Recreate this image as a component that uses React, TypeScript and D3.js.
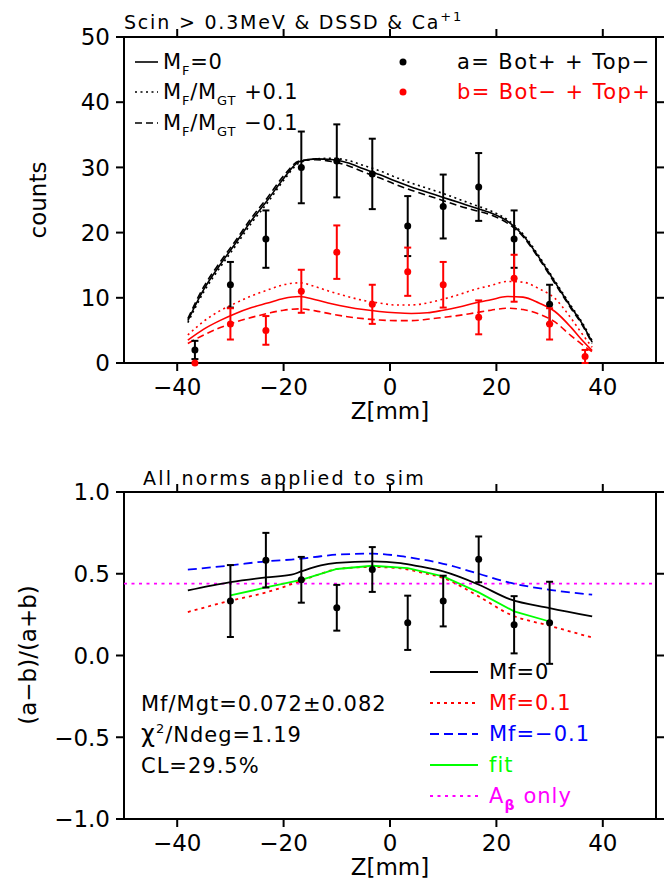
import React from 'react';
import * as d3 from 'd3';

// bin centres (mm) and measured counts
const binZ = [-36.67, -30, -23.33, -16.67, -10, -3.33, 3.33, 10, 16.67, 23.33, 30, 36.67];
const countsA = [2, 12, 19, 30, 31, 29, 21, 24, 27, 19, 9, null];
const errA = [1.4, 3.5, 4.4, 5.5, 5.6, 5.4, 4.6, 4.9, 5.2, 4.4, 3.0, null];
const countsB = [0, 6, 5, 11, 17, 9, 14, 12, 7, 13, 6, 1];
const errB = [0, 2.4, 2.2, 3.3, 4.1, 3.0, 3.7, 3.5, 2.6, 3.6, 2.4, 1.0];

// simulation curves, top panel
const zTop = [-38, -35, -32, -29, -26, -23, -20, -17, -14, -11, -8, -5, -2, 1, 4, 7, 10, 13, 16, 19, 22, 25, 28, 31, 34, 36, 38];
const aMf0 = [6.5, 11.3, 15.0, 18.4, 21.9, 25.0, 28.3, 30.9, 31.3, 31.2, 30.7, 29.8, 28.9, 27.9, 27.0, 26.2, 25.4, 24.6, 23.8, 23.0, 21.8, 19.6, 16.2, 12.4, 8.6, 6.2, 3.2];
const aPlus = [6.2, 10.9, 14.6, 18.0, 21.5, 24.6, 28.0, 30.7, 31.3, 31.4, 31.1, 30.3, 29.5, 28.5, 27.6, 26.8, 26.0, 25.1, 24.2, 23.3, 22.0, 19.8, 16.4, 12.6, 8.8, 6.4, 3.4];
const aMinus = [6.8, 11.7, 15.4, 18.8, 22.3, 25.4, 28.7, 31.0, 31.2, 30.9, 30.3, 29.3, 28.4, 27.4, 26.5, 25.7, 24.9, 24.1, 23.4, 22.7, 21.5, 19.4, 16.0, 12.2, 8.4, 6.0, 3.0];
const bMf0 = [3.5, 5.2, 6.5, 7.6, 8.5, 9.2, 9.9, 10.2, 9.7, 9.1, 8.6, 8.2, 7.9, 7.7, 7.6, 7.7, 8.1, 8.6, 9.2, 9.7, 10.2, 10.1, 9.2, 7.9, 5.5, 3.6, 1.9];
const bPlus = [4.3, 6.4, 8.0, 9.2, 10.3, 11.2, 12.0, 12.3, 11.7, 10.9, 10.2, 9.6, 9.2, 8.9, 8.9, 9.2, 9.8, 10.5, 11.3, 11.9, 12.5, 12.4, 11.4, 9.9, 6.9, 4.6, 2.4];
const bMinus = [3.0, 4.3, 5.4, 6.3, 7.0, 7.6, 8.1, 8.3, 8.0, 7.5, 7.1, 6.8, 6.6, 6.5, 6.5, 6.7, 7.0, 7.3, 7.7, 8.1, 8.4, 8.2, 7.5, 6.3, 4.2, 2.9, 1.7];

// asymmetry panel
const asymZ = [-30, -23.33, -16.67, -10, -3.33, 3.33, 10, 16.67, 23.33, 30];
const asymVal = [0.333, 0.583, 0.463, 0.292, 0.526, 0.2, 0.333, 0.588, 0.188, 0.2];
const asymErr = [0.22, 0.167, 0.14, 0.14, 0.137, 0.166, 0.155, 0.14, 0.175, 0.251];
const zBot = [-38, -30, -23.3, -18.5, -16.7, -13, -10, -3.3, 2, 5.5, 10, 16.7, 22.5, 30, 38];
const asymMf0 = [0.398, 0.449, 0.478, 0.494, 0.514, 0.551, 0.566, 0.576, 0.565, 0.545, 0.514, 0.433, 0.345, 0.29, 0.239];
const asymPlus = [0.266, 0.335, 0.386, 0.436, 0.457, 0.5, 0.529, 0.541, 0.533, 0.51, 0.474, 0.361, 0.252, 0.182, 0.11];
const asymMinus = [0.525, 0.551, 0.576, 0.587, 0.592, 0.607, 0.617, 0.623, 0.608, 0.59, 0.561, 0.5, 0.445, 0.402, 0.372];
const asymFit = [0.367, 0.416, 0.463, 0.529, 0.549, 0.535, 0.484, 0.386, 0.27, 0.208];
const aBetaOnly = 0.44;

const FONT = '"DejaVu Sans", sans-serif';
const x = d3.scaleLinear().domain([-50, 50]).range([124, 656]);
const yTop = d3.scaleLinear().domain([0, 50]).range([363, 37]);
const yBot = d3.scaleLinear().domain([-1, 1]).range([819, 492]);

const minus = (s: string) => s.replace('-', '\u2212');

function Axes({ y, yTicks, yFmt }: { y: d3.ScaleLinear<number, number>; yTicks: number[]; yFmt: (v: number) => string }) {
  const [x0, x1] = x.range();
  const [yb, yt] = y.range();
  const tl = 8;
  return (
    <g stroke="#000" strokeWidth={2}>
      <rect x={x0} y={yt} width={x1 - x0} height={yb - yt} fill="none" />
      {x.ticks(5).map(t => (
        <g key={'x' + t}>
          <line x1={x(t)} x2={x(t)} y1={yb} y2={yb + tl} />
          <line x1={x(t)} x2={x(t)} y1={yt} y2={yt - tl} />
          <text x={x(t)} y={yb + 32} textAnchor="middle" fontSize={23} stroke="none">{minus(String(t))}</text>
        </g>
      ))}
      {yTicks.map(t => (
        <g key={'y' + t}>
          <line x1={x0} x2={x0 - tl} y1={y(t)} y2={y(t)} />
          <line x1={x1} x2={x1 + tl} y1={y(t)} y2={y(t)} />
          <text x={x0 - 14} y={y(t)} dy="0.36em" textAnchor="end" fontSize={23} stroke="none">{yFmt(t)}</text>
        </g>
      ))}
      <text x={x(0)} y={yb + 56} textAnchor="middle" fontSize={23} stroke="none">Z[mm]</text>
    </g>
  );
}

function Points({ y, zs, vals, errs, color }: { y: d3.ScaleLinear<number, number>; zs: number[]; vals: (number | null)[]; errs: (number | null)[]; color: string }) {
  return (
    <g stroke={color} fill={color} strokeWidth={2}>
      {zs.map((z, i) => {
        const v = vals[i];
        const e = errs[i];
        if (v == null || e == null) return null;
        const cx = x(z);
        const hi = y(v + e);
        const lo = y(v - e);
        return (
          <g key={i}>
            {e > 0 && (
              <>
                <line x1={cx} x2={cx} y1={hi} y2={lo} />
                <line x1={cx - 3.5} x2={cx + 3.5} y1={hi} y2={hi} />
                <line x1={cx - 3.5} x2={cx + 3.5} y1={lo} y2={lo} />
              </>
            )}
            <circle cx={cx} cy={y(v)} r={3.5} stroke="none" />
          </g>
        );
      })}
    </g>
  );
}

export default function App() {
  const lineTop = (vals: number[]) =>
    d3.line<number>().x((_, i) => x(zTop[i])).y(d => yTop(d)).curve(d3.curveMonotoneX)(vals) || '';
  const lineBot = (vals: number[]) =>
    d3.line<number>().x((_, i) => x(zBot[i])).y(d => yBot(d)).curve(d3.curveMonotoneX)(vals) || '';
  const fitPath = d3.line<number>().x((_, i) => x(asymZ[i])).y(d => yBot(d))(asymFit) || '';

  const dotted = '2,3.5';
  const dashed = '7,4';

  return (
    <svg width={672} height={884} style={{ position: 'absolute', left: 0, top: 0, background: '#fff' }} fontFamily={FONT}>
      <rect width={672} height={884} fill="#fff" />

      {/* ---------- top panel ---------- */}
      <text x={124} y={29} fontSize={19} letterSpacing={1.8} style={{ whiteSpace: 'pre' }}>
        Scin {'>'} 0.3MeV &amp; DSSD &amp; Ca<tspan fontSize={13} dy={-8}>+1</tspan>
      </text>
      <Axes y={yTop} yTicks={yTop.ticks(5)} yFmt={v => String(v)} />
      <text transform="translate(46,200) rotate(-90)" textAnchor="middle" fontSize={23}>counts</text>

      <g fill="none" strokeWidth={1.6}>
        <path d={lineTop(aMf0)} stroke="#000" />
        <path d={lineTop(aPlus)} stroke="#000" strokeDasharray={dotted} />
        <path d={lineTop(aMinus)} stroke="#000" strokeDasharray={dashed} />
        <path d={lineTop(bMf0)} stroke="#f00" />
        <path d={lineTop(bPlus)} stroke="#f00" strokeDasharray={dotted} />
        <path d={lineTop(bMinus)} stroke="#f00" strokeDasharray={dashed} />
      </g>
      <Points y={yTop} zs={binZ} vals={countsA} errs={errA} color="#000" />
      <Points y={yTop} zs={binZ} vals={countsB} errs={errB} color="#f00" />

      {/* top legend */}
      <g fontSize={21} letterSpacing={0.8} style={{ whiteSpace: 'pre' }}>
        <line x1={135} x2={158} y1={62} y2={62} stroke="#000" strokeWidth={1.6} />
        <text x={163} y={69}>M<tspan fontSize={13} dy={6}>F</tspan><tspan dy={-6}>=0</tspan></text>
        <line x1={135} x2={158} y1={92} y2={92} stroke="#000" strokeWidth={1.6} strokeDasharray={dotted} />
        <text x={163} y={99}>M<tspan fontSize={13} dy={6}>F</tspan><tspan dy={-6}>/M</tspan><tspan fontSize={13} dy={6}>GT</tspan><tspan dx={8} dy={-6}>+0.1</tspan></text>
        <line x1={135} x2={158} y1={123} y2={123} stroke="#000" strokeWidth={1.6} strokeDasharray={dashed} />
        <text x={163} y={130}>M<tspan fontSize={13} dy={6}>F</tspan><tspan dy={-6}>/M</tspan><tspan fontSize={13} dy={6}>GT</tspan><tspan dx={8} dy={-6}>{'\u2212'}0.1</tspan></text>

        <circle cx={403} cy={62} r={3.5} fill="#000" />
        <text x={457} y={69} letterSpacing={1.4}>a= Bot+ + Top{'\u2212'}</text>
        <circle cx={403} cy={92} r={3.5} fill="#f00" />
        <text x={457} y={99} letterSpacing={1.4} fill="#f00">b= Bot{'\u2212'} + Top+</text>
      </g>

      {/* ---------- bottom panel ---------- */}
      <text x={143} y={485} fontSize={19} letterSpacing={2.2} style={{ whiteSpace: 'pre' }}>All norms applied to sim</text>
      <Axes y={yBot} yTicks={yBot.ticks(4)} yFmt={v => minus(d3.format('.1f')(v))} />
      <text transform="translate(36,655) rotate(-90)" textAnchor="middle" fontSize={23}>(a{'\u2212'}b)/(a+b)</text>

      <g fill="none" strokeWidth={1.8}>
        <line x1={x(-50)} x2={x(50)} y1={yBot(aBetaOnly)} y2={yBot(aBetaOnly)} stroke="#f0f" strokeDasharray="3,4.5" />
        <path d={lineBot(asymMinus)} stroke="#00f" strokeDasharray="9,5" />
        <path d={lineBot(asymPlus)} stroke="#f00" strokeDasharray="3,4" />
        <path d={lineBot(asymMf0)} stroke="#000" />
        <path d={fitPath} stroke="#0f0" />
      </g>
      <Points y={yBot} zs={asymZ} vals={asymVal} errs={asymErr} color="#000" />

      {/* stats */}
      <g fontSize={21} letterSpacing={1}>
        <text x={141} y={711}>Mf/Mgt=0.072±0.082</text>
        <text x={141} y={742}><tspan fontSize={24}>χ</tspan><tspan fontSize={13} dy={-9}>2</tspan><tspan dy={9}>/Ndeg=1.19</tspan></text>
        <text x={141} y={773}>CL=29.5%</text>
      </g>

      {/* bottom legend */}
      <g fontSize={21} letterSpacing={1} strokeWidth={1.8} style={{ whiteSpace: 'pre' }}>
        <line x1={430} x2={478} y1={672} y2={672} stroke="#000" />
        <text x={489} y={679}>Mf=0</text>
        <line x1={430} x2={478} y1={703} y2={703} stroke="#f00" strokeDasharray="3,4" />
        <text x={489} y={710} fill="#f00">Mf=0.1</text>
        <line x1={430} x2={478} y1={734} y2={734} stroke="#00f" strokeDasharray="9,5" />
        <text x={489} y={741} fill="#00f">Mf={'\u2212'}0.1</text>
        <line x1={430} x2={478} y1={765} y2={765} stroke="#0f0" />
        <text x={489} y={772} fill="#0f0">fit</text>
        <line x1={430} x2={478} y1={796} y2={796} stroke="#f0f" strokeDasharray="3,4.5" />
        <text x={489} y={803} fill="#f0f">A<tspan fontSize={14} fontWeight="bold" dy={7}>β</tspan><tspan dx={8} dy={-7}>only</tspan></text>
      </g>
    </svg>
  );
}
